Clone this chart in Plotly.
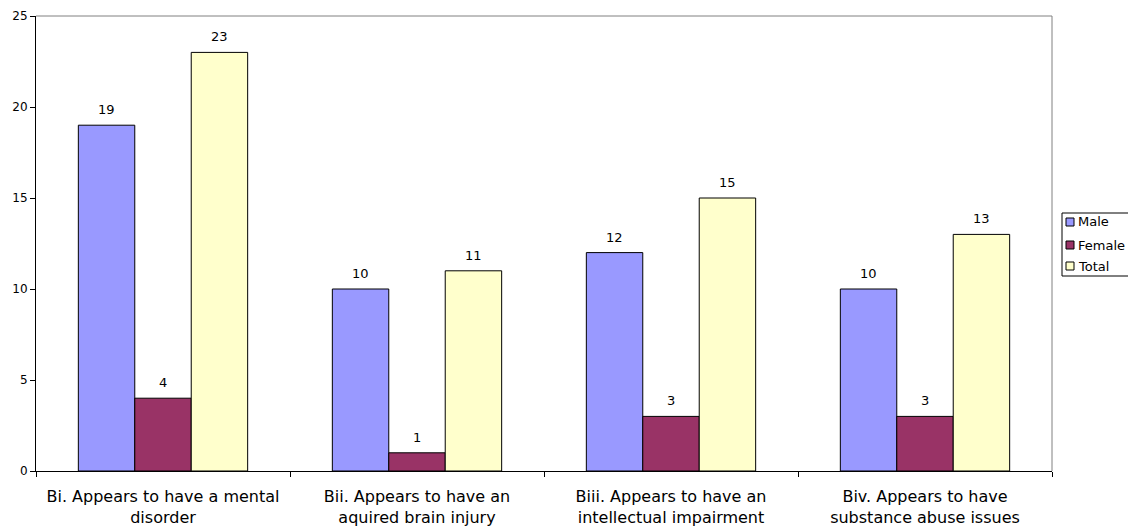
import plotly.graph_objects as go

categories = [
    "Bi. Appears to have a mental<br>disorder",
    "Bii. Appears to have an<br>aquired brain injury",
    "Biii. Appears to have an<br>intellectual impairment",
    "Biv. Appears to have<br>substance abuse issues",
]
series_names = ["Male", "Female", "Total"]
male = [19, 10, 12, 10]
female = [4, 1, 3, 3]
total = [23, 11, 15, 13]
colors = ["#9999FF", "#993366", "#FFFFCC"]

FONT = "DejaVu Sans, Verdana, sans-serif"

L, R, T, B = 36, 76, 16, 59
W, H = 1128, 530
pw = W - L - R
ph = H - T - B
BARGAP = 1.5 / 4.5
n_series = len(series_names)
bar_px = pw / len(categories) * (1 - BARGAP) / n_series

fig = go.Figure()
for name, vals, col in zip(series_names, [male, female, total], colors):
    fig.add_trace(go.Bar(
        x=categories, y=vals, name=name,
        marker=dict(color=col, line=dict(color="#000000", width=1)),
        cliponaxis=False, showlegend=False,
    ))

# data labels via axis coordinates
for si, vals in enumerate([male, female, total]):
    for cat, v in zip(categories, vals):
        fig.add_annotation(
            x=cat, y=v, xref="x", yref="y", text=str(v), showarrow=False,
            xanchor="center", yanchor="bottom",
            xshift=(si - (n_series - 1) / 2) * bar_px, yshift=6,
            font=dict(family=FONT, size=13, color="#000000"),
        )

def px_x(p):
    return (p - L) / pw

def px_y(p):
    return (H - B - p) / ph

fig.update_layout(
    width=W, height=H,
    margin=dict(l=L, r=R, t=T, b=B),
    paper_bgcolor="white", plot_bgcolor="white",
    barmode="group", bargap=BARGAP, bargroupgap=0,
    font=dict(family=FONT, size=12, color="#000000"),
    xaxis=dict(
        showline=True, linecolor="#000000", linewidth=1,
        ticks="outside", ticklen=5, tickcolor="#000000",
        tickson="boundaries", showgrid=False, automargin=False,
        ticklabelstandoff=11,
        tickfont=dict(family=FONT, size=16, color="#000000"),
    ),
    yaxis=dict(
        range=[0, 25], dtick=5, showline=True, linecolor="#000000", linewidth=1,
        ticks="outside", ticklen=5, tickcolor="#000000", showgrid=False,
        zeroline=False, automargin=False,
        tickfont=dict(family=FONT, size=12, color="#000000"),
    ),
)

# plot-area border (top and right, gray)
fig.add_shape(type="line", xref="paper", yref="paper", x0=0, x1=1, y0=1, y1=1,
              line=dict(color="#808080", width=1))
fig.add_shape(type="line", xref="paper", yref="paper", x0=1, x1=1, y0=0, y1=1,
              line=dict(color="#808080", width=1))

# manual legend
box_l, box_r, box_t, box_b = 1062, 1134, 213, 276
fig.add_shape(type="rect", xref="paper", yref="paper",
              x0=px_x(box_l), x1=px_x(box_r), y0=px_y(box_b), y1=px_y(box_t),
              line=dict(color="#000000", width=1), fillcolor="white")
row_y = [222, 245, 266]
for name, col, yy in zip(series_names, colors, row_y):
    fig.add_shape(type="rect", xref="paper", yref="paper",
                  x0=px_x(1066), x1=px_x(1074), y0=px_y(yy + 4), y1=px_y(yy - 4),
                  line=dict(color="#000000", width=1), fillcolor=col)
    fig.add_annotation(xref="paper", yref="paper", x=px_x(1076), y=px_y(yy),
                       text=name, showarrow=False, xanchor="left", yanchor="middle",
                       font=dict(family=FONT, size=13, color="#000000"))

fig.write_html("out.html", config={"displayModeBar": False},
               post_script="document.body.style.margin='0';")
